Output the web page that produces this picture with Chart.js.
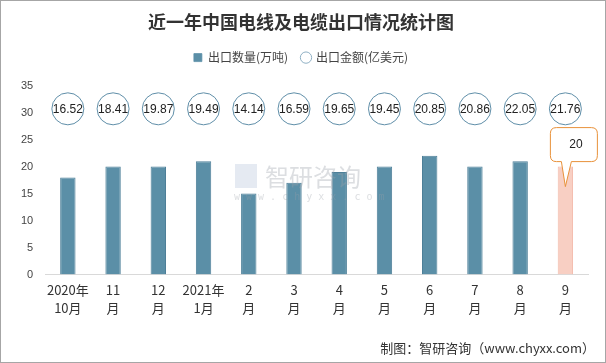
<!DOCTYPE html>
<html lang="zh">
<head>
<meta charset="UTF-8">
<title>近一年中国电线及电缆出口情况统计图</title>
<script src="https://cdn.jsdelivr.net/npm/chart.js"></script>
<style>
    body { margin: 0; background: #fff; }
    .wrap {
        width: 604px;
        height: 361px;
        border: 1px solid #a6a6a6;
        position: relative;
    }
</style>
</head>
<body>
<div class="wrap">
    <canvas id="myChart" width="604" height="361"></canvas>
</div>
<script>
    const months = [['2020年', '10月'], ['11', '月'], ['12', '月'], ['2021年', '1月'], ['2', '月'], ['3', '月'],
        ['4', '月'], ['5', '月'], ['6', '月'], ['7', '月'], ['8', '月'], ['9', '月']];
    const volume = [18, 20, 20, 21, 15, 17, 19, 20, 22, 20, 21, 20];      // 出口数量(万吨)
    const amount = [16.52, 18.41, 19.87, 19.49, 14.14, 16.59, 19.65, 19.45, 20.85, 20.86, 22.05, 21.76]; // 出口金额(亿美元)
    const yTicks = [0, 5, 10, 15, 20, 25, 30, 35];
    const highlight = 11;
    const labelRow = 30.7; // row where amount bubbles sit

    const barColors = volume.map((v, i) => i === highlight ? '#f8cfc3' : '#5b8fa7');

    // push the plot area a bit further below the legend
    const legendGap = {
        id: 'legendGap',
        beforeLayout(chart) {
            const lg = chart.legend;
            if (lg && !lg._gapDone) {
                const fit = lg.fit;
                lg.fit = function () { fit.call(this); this.height += 12; };
                lg._gapDone = true;
            }
        }
    };

    const extras = {
        id: 'extras',
        afterDatasetsDraw(chart) {
            const ctx = chart.ctx;
            // amount text in bubbles
            const pts = chart.getDatasetMeta(1).data;
            ctx.save();
            ctx.font = '12px "Liberation Sans", Arial, sans-serif';
            ctx.fillStyle = '#222';
            ctx.textAlign = 'center';
            ctx.textBaseline = 'middle';
            pts.forEach((p, i) => ctx.fillText(amount[i].toFixed(2), p.x, p.y + 1));

            // callout on highlighted bar
            const bar = chart.getDatasetMeta(0).data[highlight];
            const tipX = bar.x, tipY = bar.y + 20;
            const l = bar.x - 15, r = bar.x + 32, t = bar.y - 39, b = bar.y - 5, rad = 6;
            ctx.beginPath();
            ctx.moveTo(l + rad, t);
            ctx.lineTo(r - rad, t);
            ctx.quadraticCurveTo(r, t, r, t + rad);
            ctx.lineTo(r, b - rad);
            ctx.quadraticCurveTo(r, b, r - rad, b);
            ctx.lineTo(bar.x + 6, b);
            ctx.lineTo(tipX, tipY);
            ctx.lineTo(bar.x - 4, b);
            ctx.lineTo(l + rad, b);
            ctx.quadraticCurveTo(l, b, l, b - rad);
            ctx.lineTo(l, t + rad);
            ctx.quadraticCurveTo(l, t, l + rad, t);
            ctx.closePath();
            ctx.fillStyle = '#fff';
            ctx.fill();
            ctx.strokeStyle = '#e8913a';
            ctx.lineWidth = 1;
            ctx.stroke();
            ctx.fillStyle = '#222';
            ctx.fillText(String(volume[highlight]), (l + r) / 2 + 2, (t + b) / 2);

            // watermark
            ctx.globalAlpha = 0.35;
            ctx.fillStyle = '#9aa0a8';
            ctx.font = '24px "Noto Sans CJK SC", sans-serif';
            ctx.textAlign = 'left';
            ctx.fillText('智研咨询', 264, 176);
            ctx.font = '10px "DejaVu Sans Mono", monospace';
            ctx.fillText('w w w . c h y x x . c o m', 233, 196);
            ctx.fillStyle = '#b5c3da';
            ctx.fillRect(234, 163, 22, 24);
            ctx.restore();

            // source
            ctx.save();
            ctx.font = '13px "Noto Sans CJK SC", sans-serif';
            ctx.fillStyle = '#333';
            ctx.textAlign = 'right';
            ctx.textBaseline = 'middle';
            ctx.fillText('制图：智研咨询（www.chyxx.com）', 594, 347);
            ctx.restore();
        }
    };

    new Chart(document.getElementById('myChart'), {
        data: {
            labels: months,
            datasets: [{
                type: 'bar',
                label: '出口数量(万吨)',
                data: volume,
                backgroundColor: barColors,
                borderColor: volume.map((v, i) => i === highlight ? '#f3b9a8' : '#4d7f98'),
                borderWidth: { left: 1, right: 1, top: 1 },
                barPercentage: 0.34,
                categoryPercentage: 1,
                order: 2
            }, {
                type: 'line',
                label: '出口金额(亿美元)',
                data: amount.map(() => labelRow),
                showLine: false,
                pointStyle: 'circle',
                pointRadius: 16,
                pointHoverRadius: 16,
                pointBackgroundColor: '#fff',
                pointBorderColor: '#5f8ea8',
                pointBorderWidth: 1,
                backgroundColor: '#fff',
                borderColor: '#8fb0c4',
                order: 1
            }]
        },
        options: {
            responsive: false,
            animation: false,
            layout: { padding: { left: 8, right: 12, top: 0, bottom: 39 } },
            plugins: {
                title: {
                    display: true,
                    text: '近一年中国电线及电缆出口情况统计图',
                    color: '#333',
                    font: { size: 18, weight: 'bold', family: '"Noto Sans CJK SC", sans-serif' },
                    padding: { top: 10, bottom: 5 }
                },
                legend: {
                    position: 'top',
                    labels: {
                        usePointStyle: true,
                        boxWidth: 8,
                        boxHeight: 8,
                        padding: 14,
                        color: '#444',
                        font: { size: 12, family: '"Noto Sans CJK SC", sans-serif' },
                        generateLabels(chart) {
                            const items = Chart.defaults.plugins.legend.labels.generateLabels(chart);
                            items.sort((a, b) => a.datasetIndex - b.datasetIndex);
                            items.forEach(it => {
                                if (it.datasetIndex === 0) {
                                    it.pointStyle = 'rect';
                                    it.fillStyle = '#5b8fa7';
                                    it.strokeStyle = '#5b8fa7';
                                } else {
                                    it.pointStyle = 'circle';
                                    it.fillStyle = '#fff';
                                    it.strokeStyle = '#8fb0c4';
                                }
                            });
                            return items;
                        }
                    }
                },
                tooltip: { enabled: false }
            },
            scales: {
                x: {
                    grid: { display: false, drawTicks: false },
                    border: { color: '#d9d9d9' },
                    ticks: {
                        color: '#333',
                        padding: 6,
                        maxRotation: 0,
                        autoSkip: false,
                        font: { size: 13, family: '"Noto Sans CJK SC", sans-serif', lineHeight: 1.4 }
                    }
                },
                y: {
                    min: 0,
                    max: 35,
                    grid: { display: false, drawTicks: false },
                    border: { display: false },
                    afterBuildTicks(axis) { axis.ticks = yTicks.map(v => ({ value: v })); },
                    ticks: {
                        color: '#444',
                        padding: 12,
                        font: { size: 11, family: '"Liberation Sans", Arial, sans-serif' }
                    }
                }
            }
        },
        plugins: [legendGap, extras]
    });
</script>
</body>
</html>
